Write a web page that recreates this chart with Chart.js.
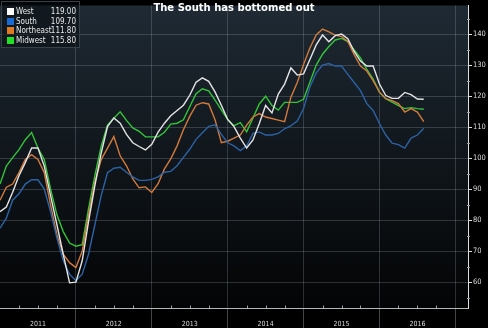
<!DOCTYPE html>
<html>
<head>
<meta charset="utf-8">
<script src="https://cdn.jsdelivr.net/npm/chart.js@4.4.0/dist/chart.umd.min.js"></script>
<style>
  html, body { margin: 0; padding: 0; background: #000; }
  #wrap { position: relative; width: 488px; height: 328px; overflow: hidden; }
  #title {
    position: absolute; left: 0; top: 2px; width: 468px; text-align: center;
    color: #fff; font: bold 10px "DejaVu Sans", sans-serif; letter-spacing: 0;
  }
  #legend {
    position: absolute; left: 1px; top: 1px; width: 77px; height: 44px;
    padding: 1px 0 0 0;
    background: rgba(8, 12, 16, 0.55); border: 1px solid #37414a;
    font: 8px "DejaVu Sans Condensed", "Liberation Sans", sans-serif; color: #e8e8e8;
  }
  .row { position: relative; height: 9.6px; line-height: 9.6px; margin-top: 0; }
  .row:first-child { margin-top: 4px; }
  .sw { position: absolute; left: 5px; top: 1.2px; width: 7px; height: 7px; }
  .nm { position: absolute; left: 14px; top: 0; }
  .val { position: absolute; right: 3px; top: 0; }
</style>
</head>
<body>
<div id="wrap">
  <canvas id="regionChart" width="488" height="328"></canvas>
  <div id="title">The South has bottomed out</div>
  <div id="legend"></div>
</div>
<script>
// Месячный индекс по регионам, январь 2011 - август 2016
const years = ['2011', '2012', '2013', '2014', '2015', '2016'];

const west = [
  82.8, 84.3, 89.1, 94.4, 98.6, 103.3, 103.3, 97.5, 88.0, 78.6, 69.1, 59.9,
  60.1, 67.0, 79.6, 91.2, 101.7, 110.2, 113.0, 111.3, 107.7, 105.0, 103.8, 102.7,
  104.5, 108.4, 111.3, 113.7, 115.4, 117.1, 120.3, 124.5, 125.9, 124.8, 121.4, 117.1,
  112.5, 110.2, 106.5, 103.3, 105.9, 111.2, 117.0, 114.6, 120.7, 123.9, 129.1, 126.8,
  127.2, 131.8, 136.5, 139.7, 137.5, 139.5, 140.0, 138.5, 134.4, 131.3, 129.7, 129.7,
  123.9, 120.2, 119.3, 119.3, 121.2, 120.5, 119.1, 119.0
];
const south = [
  77.5, 80.7, 86.5, 88.6, 91.7, 93.1, 93.1, 90.1, 82.8, 74.3, 67.0, 62.7,
  60.6, 62.7, 69.1, 78.6, 88.0, 95.4, 96.8, 97.1, 95.5, 94.0, 92.9, 92.9,
  93.2, 94.0, 95.5, 95.8, 97.6, 100.3, 102.9, 106.1, 108.2, 110.3, 110.8, 107.7,
  105.0, 104.0, 102.5, 104.0, 108.0, 108.5, 107.5, 107.5, 108.0, 109.5, 110.5, 112.0,
  116.0, 123.0, 127.5, 130.0, 130.5, 129.7, 129.7, 127.0, 124.4, 121.8, 117.6, 115.4,
  111.2, 107.5, 104.9, 104.4, 103.3, 106.5, 107.5, 109.7
];
const northeast = [
  86.5, 90.7, 91.7, 95.4, 99.6, 101.2, 99.6, 95.4, 84.9, 75.4, 69.1, 66.4,
  64.8, 70.1, 81.7, 92.3, 99.6, 103.3, 107.0, 100.8, 97.6, 93.4, 90.5, 90.8,
  89.0, 91.8, 96.6, 99.8, 104.0, 109.2, 113.5, 117.1, 117.9, 117.5, 112.4, 105.0,
  105.5, 106.5, 107.5, 110.7, 113.3, 114.4, 113.3, 112.8, 112.3, 111.8, 119.7, 124.4,
  130.2, 135.5, 139.7, 141.6, 140.7, 139.7, 139.2, 137.6, 133.4, 129.7, 128.1, 125.0,
  121.3, 119.2, 118.6, 117.6, 114.9, 116.0, 114.9, 111.8
];
const midwest = [
  91.7, 97.5, 100.2, 102.8, 106.0, 108.3, 103.3, 99.6, 90.1, 81.8, 76.4, 72.7,
  71.7, 72.2, 83.8, 94.4, 103.9, 110.7, 112.9, 115.0, 112.2, 109.8, 108.7, 106.9,
  106.9, 106.9, 108.4, 111.0, 111.3, 112.4, 116.6, 120.8, 122.4, 121.7, 118.7, 115.6,
  112.5, 110.5, 111.5, 108.5, 113.0, 117.5, 120.0, 117.0, 115.5, 118.0, 118.0, 118.0,
  119.0, 124.5, 130.0, 133.5, 136.0, 138.1, 138.6, 137.6, 134.9, 132.3, 128.6, 125.5,
  121.3, 119.2, 118.1, 117.0, 116.0, 116.3, 116.0, 115.8
];

const seriesNames = ['West', 'South', 'Northeast', 'Midwest'];
const seriesValues = [west, south, northeast, midwest];
const lineColors = ['#e4e4e4', '#2c62a6', '#d27a3c', '#33c43a'];
const swatchColors = ['#ffffff', '#1a6ad4', '#e07a22', '#22e02a'];

const gridColor = 'rgba(160, 170, 180, 0.26)';

// точки по месяцам: x = номер месяца от января 2011
function toPoints(arr) {
  return arr.map((v, i) => ({ x: i, y: v }));
}

// фон: градиент внутри области графика, снаружи чёрный
const backdrop = {
  id: 'backdrop',
  beforeDraw(chart) {
    const { ctx, chartArea: a } = chart;
    ctx.save();
    ctx.fillStyle = '#000';
    ctx.fillRect(0, 0, chart.width, chart.height);
    const g = ctx.createLinearGradient(0, a.top, 0, a.bottom);
    g.addColorStop(0, '#1f2a34');
    g.addColorStop(0.5, '#10161b');
    g.addColorStop(1, '#030405');
    ctx.fillStyle = g;
    ctx.fillRect(a.left, a.top, a.right - a.left, a.bottom - a.top);
    ctx.restore();
  }
};

// мелкие засечки: кварталы по X и пятёрки по Y
const minorTicks = {
  id: 'minorTicks',
  afterDraw(chart) {
    const { ctx, chartArea: a, scales } = chart;
    ctx.save();
    ctx.strokeStyle = '#9aa0a6';
    ctx.lineWidth = 1;
    ctx.beginPath();
    scales.x.ticks.forEach(t => {
      if (t.value % 12 === 0) return;
      const px = Math.round(scales.x.getPixelForValue(t.value)) + 0.5;
      ctx.moveTo(px, a.bottom);
      ctx.lineTo(px, a.bottom - 2.5);
    });
    scales.y.ticks.forEach(t => {
      if (t.value % 10 === 0) return;
      const py = Math.round(scales.y.getPixelForValue(t.value)) + 0.5;
      ctx.moveTo(a.right - 1, py);
      ctx.lineTo(a.right + 2, py);
    });
    ctx.stroke();
    ctx.restore();
  }
};

const ctx = document.getElementById('regionChart').getContext('2d');
new Chart(ctx, {
  type: 'line',
  data: {
    datasets: seriesNames.map((name, k) => ({
      label: name,
      data: toPoints(seriesValues[k]),
      borderColor: lineColors[k],
      borderWidth: 1.4,
      pointRadius: 0,
      tension: 0,
      fill: false
    }))
  },
  options: {
    responsive: false,
    devicePixelRatio: 1,
    animation: false,
    layout: { padding: 0 },
    plugins: {
      legend: { display: false },
      title: { display: false },
      tooltip: { enabled: false }
    },
    scales: {
      x: {
        type: 'linear',
        position: 'bottom',
        min: 0,
        max: 74,
        afterBuildTicks: s => {
          s.ticks = [];
          for (let v = 0; v <= 72; v += 3) s.ticks.push({ value: v });
        },
        afterFit: s => { s.height = 20; },
        grid: {
          color: c => (c.tick && c.tick.value % 12 === 0 && c.tick.value > 0) ? gridColor : 'rgba(0,0,0,0)',
          tickColor: c => (c.tick && c.tick.value % 12 === 0 && c.tick.value > 0) ? 'rgba(150,155,160,0.45)' : 'rgba(0,0,0,0)',
          tickLength: 20,
          lineWidth: 1
        },
        border: { color: '#b8b8b8', width: 1 },
        ticks: {
          autoSkip: false,
          maxRotation: 0,
          padding: -8,
          color: '#d8d8d8',
          font: { family: '"DejaVu Sans Condensed", "Liberation Sans", sans-serif', size: 7 },
          callback: v => (v % 12 === 6 ? years[(v - 6) / 12] : '')
        }
      },
      y: {
        type: 'linear',
        position: 'right',
        min: 51.8,
        max: 149.2,
        afterBuildTicks: s => {
          s.ticks = [];
          for (let v = 55; v <= 145; v += 5) s.ticks.push({ value: v });
        },
        afterFit: s => { s.width = 20; },
        grid: {
          color: c => (c.tick && c.tick.value % 10 === 0) ? gridColor : 'rgba(0,0,0,0)',
          tickColor: c => (c.tick && c.tick.value % 10 === 0) ? '#e0e0e0' : 'rgba(0,0,0,0)',
          tickLength: 4,
          lineWidth: 1
        },
        border: { color: '#e0e0e0', width: 1 },
        ticks: {
          autoSkip: false,
          padding: 1,
          color: '#dcdcdc',
          font: { family: '"DejaVu Sans Condensed", "Liberation Sans", sans-serif', size: 7.5 },
          callback: v => (v % 10 === 0 ? String(v) : '')
        }
      }
    }
  },
  plugins: [backdrop, minorTicks]
});

// легенда с последними значениями
const legend = document.getElementById('legend');
seriesNames.forEach((name, k) => {
  const vals = seriesValues[k];
  const row = document.createElement('div');
  row.className = 'row';
  row.innerHTML = '<span class="sw" style="background:' + swatchColors[k] + '"></span>' +
    '<span class="nm">' + name + '</span>' +
    '<span class="val">' + vals[vals.length - 1].toFixed(2) + '</span>';
  legend.appendChild(row);
});
</script>
</body>
</html>
